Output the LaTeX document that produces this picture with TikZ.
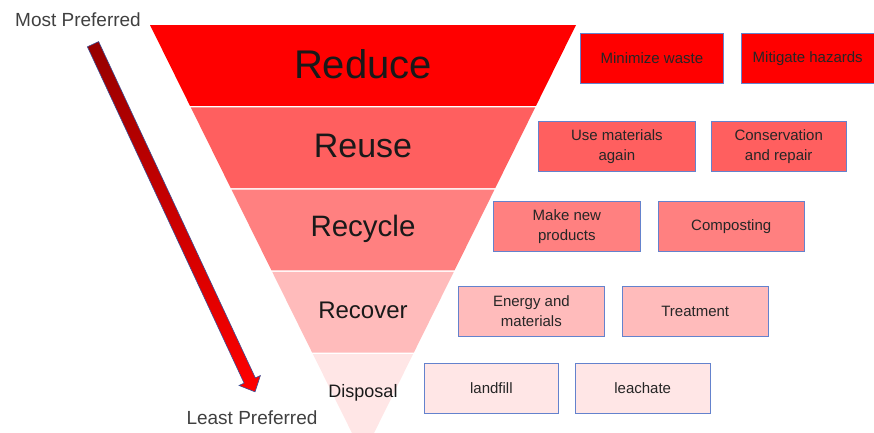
\documentclass[tikz,border=0pt]{standalone}
\usepackage{fontspec}
\setmainfont{Liberation Sans}
\usepackage{xcolor}
\usepackage{tikz}
\usetikzlibrary{positioning, arrows.meta}
\usetikzlibrary{calc}

\definecolor{rReduce}{RGB}{255,0,0}
\definecolor{rReuse}{RGB}{255,95,95}
\definecolor{rRecycle}{RGB}{255,128,128}
\definecolor{rRecover}{RGB}{255,187,187}
\definecolor{rDisposal}{RGB}{255,230,230}
\definecolor{boxline}{RGB}{100,130,205}
\definecolor{arrowdark}{RGB}{150,0,0}
\definecolor{arrowedge}{RGB}{60,80,150}

\begin{document}
\begin{tikzpicture}[
        x=1pt, y=-1pt,
        optbox/.style={rectangle, draw=boxline, line width=0.8pt, minimum height=50pt, inner sep=2pt, align=center, text=black!85, font=\fontsize{15}{20}\selectfont},
        bandtext/.style={text=black!90, inner sep=0pt},
        endlabel/.style={text=black!75, inner sep=0pt, font=\fontsize{19}{19}\selectfont}
    ]
        \useasboundingbox (0,0) rectangle (874,432);

        % ===== 漏斗 =====
        \begin{scope}
            \clip (0,0) rectangle (874,432);
            \foreach \i/\word/\col/\sz in {0/Reduce/rReduce/40, 1/Reuse/rReuse/34, 2/Recycle/rRecycle/29.5, 3/Recover/rRecover/24, 4/Disposal/rDisposal/18} {
                \pgfmathsetmacro\ya{25+82.25*\i}
                \pgfmathsetmacro\yb{\ya+80.75}
                \pgfmathsetmacro\wa{213-0.495*(\ya-25)}
                \pgfmathsetmacro\wb{max(213-0.495*(\yb-25),0)}
                \fill[\col] (363-\wa,\ya) -- (363+\wa,\ya) -- (363+\wb,\yb) -- (363-\wb,\yb) -- cycle;
                \node (\word) [bandtext, font=\fontsize{\sz}{\sz}\selectfont] at (363,\ya+39) {\word};
            }
        \end{scope}

        % ===== 右侧方框 =====
        \node (minWaste) [optbox, fill=rReduce, minimum width=143pt, anchor=north west] at (580,33) {Minimize waste};
        \node (mitigate) [optbox, fill=rReduce, minimum width=133pt, right=17pt of minWaste] {Mitigate hazards};
        \node (useAgain) [optbox, fill=rReuse, minimum width=157pt, anchor=north west] at (538,121) {Use materials\\again};
        \node (conserve) [optbox, fill=rReuse, minimum width=135pt, right=15pt of useAgain] {Conservation\\and repair};
        \node (makeNew) [optbox, fill=rRecycle, minimum width=147pt, anchor=north west] at (493,201) {Make new\\products};
        \node (compost) [optbox, fill=rRecycle, minimum width=146pt, right=17pt of makeNew] {Composting};
        \node (energy) [optbox, fill=rRecover, minimum width=146pt, anchor=north west] at (458,286) {Energy and\\materials};
        \node (treat) [optbox, fill=rRecover, minimum width=146pt, right=17pt of energy] {Treatment};
        \node (landfill) [optbox, fill=rDisposal, minimum width=134pt, anchor=north west] at (424,363) {landfill};
        \node (leachate) [optbox, fill=rDisposal, minimum width=135pt, right=16pt of landfill] {leachate};

        % ===== 左侧箭头 =====
        \node (most) [endlabel] at (78,20) {Most Preferred};
        \node (least) [endlabel] at (252,418) {Least Preferred};
        \coordinate (arrowTail) at ($(most.south)+(15,17)$);
        \coordinate (arrowTip) at ($(least.north)+(3,-19)$);
        \coordinate (headBase) at ($(arrowTip)!12.5pt!(arrowTail)$);
        \shade[top color=arrowdark, bottom color=red, draw=arrowedge, line width=0.6pt, line join=miter]
            ($(arrowTail)!6.2pt!90:(arrowTip)$) -- ($(headBase)!6.2pt!90:(arrowTip)$)
            -- ($(headBase)!11.8pt!90:(arrowTip)$) -- (arrowTip)
            -- ($(headBase)!11.8pt!-90:(arrowTip)$) -- ($(headBase)!6.2pt!-90:(arrowTip)$)
            -- ($(arrowTail)!6.2pt!-90:(arrowTip)$) -- cycle;

    \end{tikzpicture}
\end{document}
